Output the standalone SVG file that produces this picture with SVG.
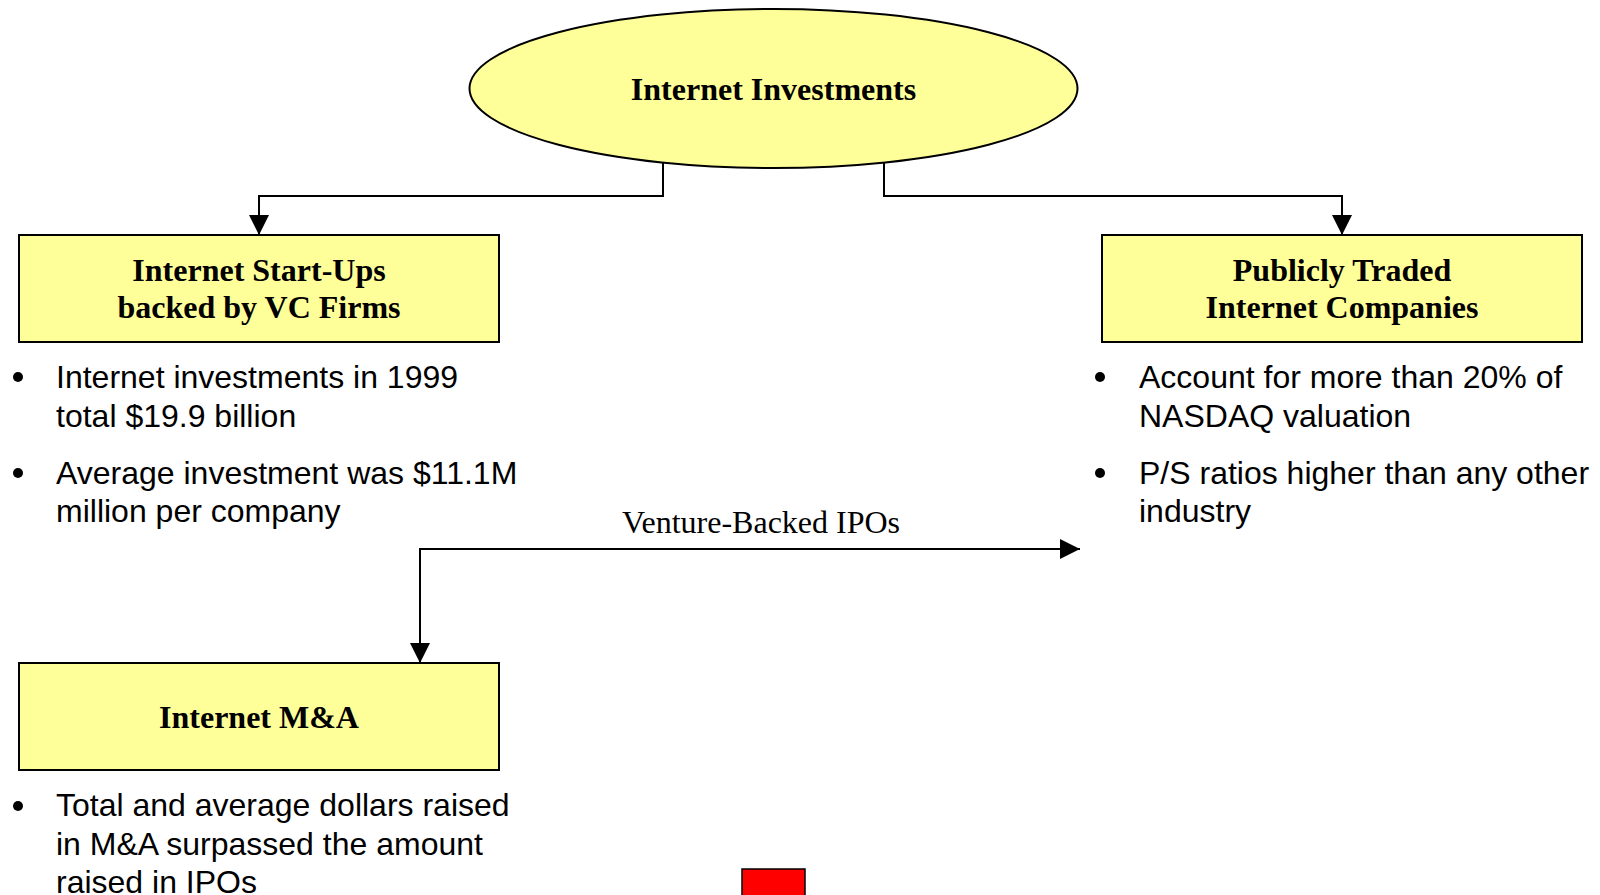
<svg xmlns="http://www.w3.org/2000/svg" width="1600" height="895" viewBox="0 0 1600 895">
<style>
.node{fill:#FFFF99;stroke:#000;stroke-width:2}
.title{font-family:"Liberation Serif","Times New Roman",serif;font-weight:bold;font-size:32px;fill:#000;text-anchor:middle}
.bul{font-family:"Liberation Sans",Arial,sans-serif;font-size:32px;fill:#000}
.lbl{font-family:"Liberation Serif","Times New Roman",serif;font-size:32px;fill:#000;text-anchor:middle}
.conn{fill:none;stroke:#000;stroke-width:2}
</style>
<defs>
<marker id="arr" viewBox="0 0 10 10" refX="10" refY="5" markerWidth="20" markerHeight="20" markerUnits="userSpaceOnUse" orient="auto-start-reverse">
<path d="M0,0 L10,5 L0,10 Z" fill="#000"/>
</marker>
</defs>
<rect width="1600" height="895" fill="#fff"/>
<g id="connectors">
<path class="conn" d="M663,160 L663,196 L259,196 L259,235" marker-end="url(#arr)"/>
<path class="conn" d="M884,160 L884,196 L1342,196 L1342,235" marker-end="url(#arr)"/>
<path class="conn" d="M420,663 L420,549 L1080,549" marker-start="url(#arr)" marker-end="url(#arr)"/>
<text class="lbl" x="761" y="533">Venture-Backed IPOs</text>
</g>
<g id="internet-investments">
<ellipse class="node" cx="773.5" cy="88.5" rx="304" ry="79.5"/>
<text class="title" x="773.5" y="100">Internet Investments</text>
</g>
<g id="startups">
<rect class="node" x="19" y="235" width="480" height="107"/>
<text class="title" x="259" y="281">Internet Start-Ups</text>
<text class="title" x="259" y="318">backed by VC Firms</text>
<circle cx="18" cy="377" r="5"/>
<text class="bul" x="56" y="388">Internet investments in 1999</text>
<text class="bul" x="56" y="427">total $19.9 billion</text>
<circle cx="18" cy="473" r="5"/>
<text class="bul" x="56" y="484">Average investment was $11.1M</text>
<text class="bul" x="56" y="522">million per company</text>
</g>
<g id="public">
<rect class="node" x="1102" y="235" width="480" height="107"/>
<text class="title" x="1342" y="281">Publicly Traded</text>
<text class="title" x="1342" y="318">Internet Companies</text>
<circle cx="1100" cy="377" r="5"/>
<text class="bul" x="1139" y="388">Account for more than 20% of</text>
<text class="bul" x="1139" y="427">NASDAQ valuation</text>
<circle cx="1100" cy="473" r="5"/>
<text class="bul" x="1139" y="484">P/S ratios higher than any other</text>
<text class="bul" x="1139" y="522">industry</text>
</g>
<g id="ma">
<rect class="node" x="19" y="663" width="480" height="107"/>
<text class="title" x="259" y="728">Internet M&amp;A</text>
<circle cx="18" cy="806" r="5"/>
<text class="bul" x="56" y="816">Total and average dollars raised</text>
<text class="bul" x="56" y="855">in M&amp;A surpassed the amount</text>
<text class="bul" x="56" y="893">raised in IPOs</text>
</g>
<g id="red-box">
<rect x="742" y="869" width="63" height="40" fill="#FF0000" stroke="#000" stroke-width="1.5"/>
</g>
</svg>
